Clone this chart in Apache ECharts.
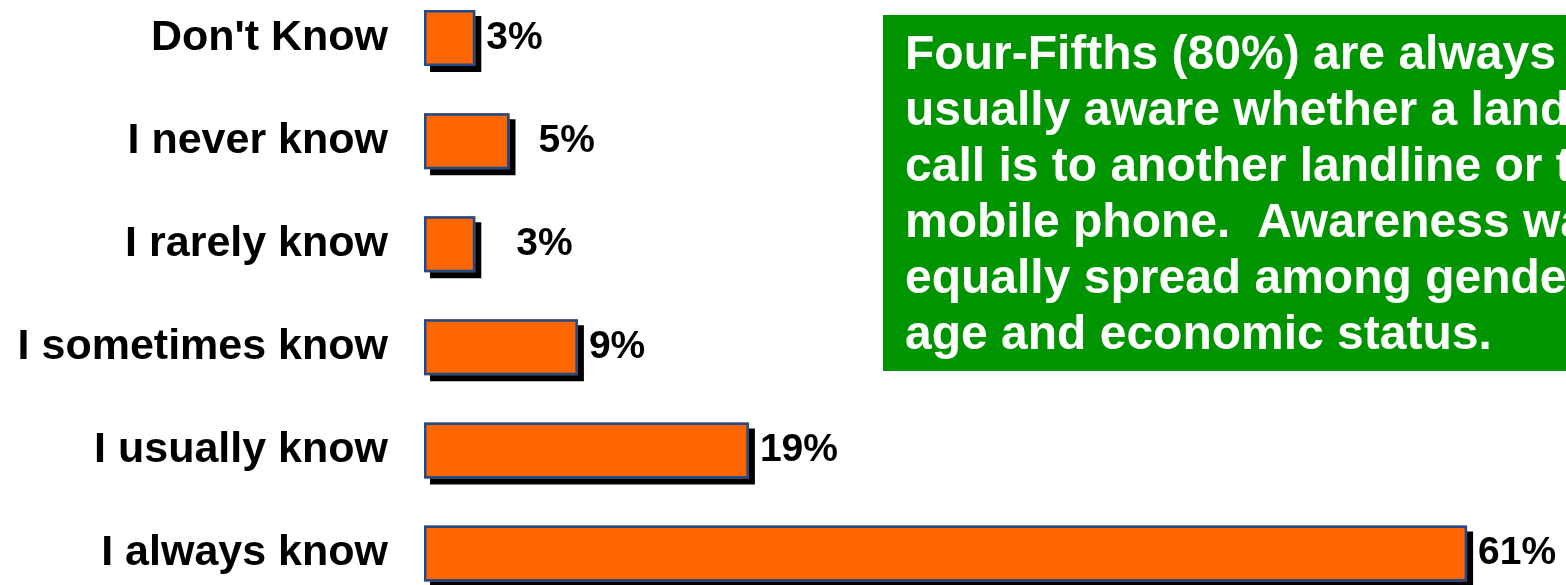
<!DOCTYPE html>
<html>
<head>
<meta charset="utf-8">
<title>Awareness of call destination</title>
<script src="https://cdn.jsdelivr.net/npm/echarts@6/dist/echarts.min.js"></script>
<style>
  html, body { margin: 0; padding: 0; background: #ffffff; overflow: hidden; width: 1566px; height: 585px; }
  /* the plot runs slightly past the top and bottom edges of the page */
  #chart { position: absolute; left: 0; top: -14px; width: 1566px; height: 620px; }
</style>
</head>
<body>
<div id="chart"></div>
<script>
// Answers, listed top to bottom
const categories = [
  "Don't Know",
  'I never know',
  'I rarely know',
  'I sometimes know',
  'I usually know',
  'I always know'
];
// Share of respondents, percent
const shares = [3, 5, 3, 9, 19, 61];

// Callout text, one entry per line
const noteLines = [
  'Four-Fifths (80%) are always or',
  'usually aware whether a landline',
  'call is to another landline or to a',
  'mobile phone.  Awareness was',
  'equally spread among gender,',
  'age and economic status.'
];

// Extra horizontal push for a couple of value labels (px)
const labelShift = [0, 18, 30, 0, 0, 0];

const FONT = '"Liberation Sans", Arial, Helvetica, sans-serif';
const SHIFT_Y = 14; // the chart box starts this far above the page top

const chart = echarts.init(document.getElementById('chart'), null, { renderer: 'canvas' });

chart.setOption({
  animation: false,
  backgroundColor: '#ffffff',
  grid: { left: 424, right: 13.4, top: 0.5, bottom: 0.9, containLabel: false },
  xAxis: {
    type: 'value',
    min: 0,
    max: 66,
    show: false
  },
  yAxis: {
    type: 'category',
    data: categories,
    inverse: true,
    axisLine: { show: false },
    axisTick: { show: false },
    splitLine: { show: false },
    axisLabel: {
      margin: 36,
      color: '#000000',
      fontFamily: FONT,
      fontWeight: 'bold',
      fontSize: 43,
      padding: [4, 0, 0, 0]
    }
  },
  series: [
    {
      // orange fill with a hard drop shadow
      type: 'bar',
      barWidth: 56,
      data: shares.map((v, i) => ({
        value: v,
        label: { offset: [labelShift[i], 0] }
      })),
      itemStyle: {
        color: '#ff6600',
        borderWidth: 0,
        shadowColor: '#000000',
        shadowBlur: 0,
        shadowOffsetX: 6,
        shadowOffsetY: 6
      },
      label: {
        show: true,
        position: 'right',
        distance: 11,
        formatter: '{c}%',
        color: '#000000',
        fontFamily: FONT,
        fontWeight: 'bold',
        fontSize: 39
      },
      z: 2
    },
    {
      // blue outline drawn over the same bars
      type: 'bar',
      barWidth: 56,
      barGap: '-100%',
      data: shares,
      itemStyle: {
        color: 'rgba(0,0,0,0)',
        borderColor: '#1d4c8c',
        borderWidth: 2.5
      },
      label: { show: false },
      silent: true,
      z: 3
    }
  ],
  graphic: [
    {
      type: 'rect',
      left: 883,
      top: 15 + SHIFT_Y,
      shape: { width: 720, height: 356 },
      style: { fill: '#009400' },
      silent: true
    },
    {
      type: 'text',
      left: 905,
      top: 28 + SHIFT_Y,
      style: {
        text: noteLines.join('\n'),
        fill: '#ffffff',
        font: 'bold 48px ' + FONT,
        lineHeight: 56
      },
      silent: true
    }
  ]
});
</script>
</body>
</html>
